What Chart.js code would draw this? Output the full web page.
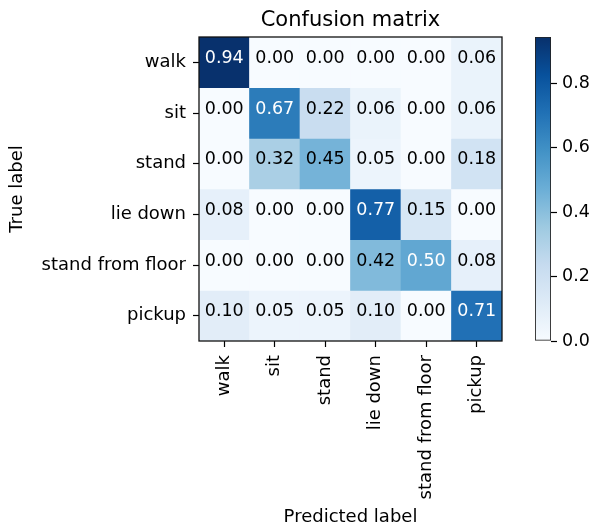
<!DOCTYPE html>
<html>
<head>
<style>
  html, body { margin: 0; padding: 0; background: #fff; }
  #wrap { position: relative; width: 593px; height: 531px; }
  #wrap canvas { position: absolute; left: 0; top: 0; }
</style>
</head>
<body>
<div id="wrap">
  <canvas id="matrix" width="593" height="531"></canvas>
  <canvas id="colorbar" width="593" height="531"></canvas>
</div>

<script src="https://cdn.jsdelivr.net/npm/chart.js"></script>
<script>
// labels
const predictedLabels = ['walk', 'sit', 'stand', 'lie down', 'stand from floor', 'pickup'];
const trueLabels = ['walk', 'sit', 'stand', 'lie down', 'stand from floor', 'pickup'];

// one array per true label (row), values per predicted label (column)
const walk = [0.94, 0.00, 0.00, 0.00, 0.00, 0.06];
const sit = [0.00, 0.67, 0.22, 0.06, 0.00, 0.06];
const stand = [0.00, 0.32, 0.45, 0.05, 0.00, 0.18];
const lieDown = [0.08, 0.00, 0.00, 0.77, 0.15, 0.00];
const standFromFloor = [0.00, 0.00, 0.00, 0.42, 0.50, 0.08];
const pickup = [0.10, 0.05, 0.05, 0.10, 0.00, 0.71];
const rows = [walk, sit, stand, lieDown, standFromFloor, pickup];

// colour scale
const colorMax = 0.944;
const colorbarTicks = [0, 0.2, 0.4, 0.6, 0.8];

// matplotlib "Blues"
const BLUES = [[247,251,255],[222,235,247],[198,219,239],[158,202,225],[107,174,214],
               [66,146,198],[33,113,181],[8,81,156],[8,48,107]];
function blues(t) {
    t = Math.max(0, Math.min(1, t)) * (BLUES.length - 1);
    let i = Math.min(Math.floor(t), BLUES.length - 2);
    let f = t - i;
    let c = BLUES[i].map((v, k) => Math.round(v + (BLUES[i + 1][k] - v) * f));
    return 'rgb(' + c.join(',') + ')';
}

const FONT = '"DejaVu Sans", sans-serif';
Chart.defaults.font.family = FONT;
Chart.defaults.color = '#000';

// writes the value in every cell
const cellText = {
    id: 'cellText',
    afterDatasetsDraw(chart) {
        let ctx = chart.ctx;
        ctx.save();
        ctx.font = '17.5px ' + FONT;
        ctx.textAlign = 'center';
        ctx.textBaseline = 'middle';
        rows.forEach((row, r) => {
            chart.getDatasetMeta(r).data.forEach((bar, c) => {
                let v = row[c];
                ctx.fillStyle = v > colorMax / 2 ? '#fff' : '#000';
                ctx.fillText(v.toFixed(2), bar.x, (bar.y + bar.base) / 2 - 4);
            });
        });
        ctx.restore();
    }
};

// black frame round the plot area
const frame = {
    id: 'frame',
    afterDraw(chart) {
        let a = chart.chartArea;
        let ctx = chart.ctx;
        ctx.save();
        ctx.strokeStyle = '#111';
        ctx.lineWidth = 1.3;
        ctx.strokeRect(a.left, a.top, a.right - a.left, a.bottom - a.top);
        ctx.restore();
    }
};

let matrixChart = new Chart(document.getElementById('matrix').getContext('2d'), {
    type: 'bar',
    data: {
        labels: predictedLabels,
        datasets: rows.map((row, r) => ({
            label: trueLabels[r],
            data: row.map(() => 1),
            backgroundColor: row.map(v => blues(v / colorMax)),
            borderWidth: 0,
            barPercentage: 1,
            categoryPercentage: 1
        }))
    },
    options: {
        responsive: false,
        animation: false,
        layout: { padding: { top: 0, right: 91, bottom: 0, left: 0 } },
        plugins: {
            legend: { display: false },
            tooltip: { enabled: false },
            title: {
                display: true,
                text: 'Confusion matrix',
                fullSize: false,
                color: '#000',
                font: { size: 21, weight: 'normal' },
                padding: { top: 8, bottom: 3.8 }
            }
        },
        scales: {
            x: {
                stacked: true,
                offset: true,
                grid: { drawOnChartArea: false, offset: false, tickLength: 6, tickColor: '#000', tickWidth: 1.2 },
                border: { display: false },
                ticks: { autoSkip: false, maxRotation: 90, minRotation: 90, padding: 8, font: { size: 18 } },
                title: { display: true, text: 'Predicted label', font: { size: 18 }, padding: { top: 0, bottom: 3 } },
                afterFit(scale) { scale.height = 190; }
            },
            y: {
                stacked: true,
                min: 0,
                max: trueLabels.length,
                reverse: true,
                afterBuildTicks(scale) {
                    scale.ticks = trueLabels.map((_, i) => ({ value: i + 0.5 }));
                },
                grid: { drawOnChartArea: false, tickLength: 6, tickColor: '#000', tickWidth: 1.2 },
                border: { display: false },
                ticks: { callback: (v, i) => trueLabels[i], padding: 7, font: { size: 18 } },
                title: { display: true, text: 'True label', font: { size: 18 }, padding: { top: 7, bottom: 0 } },
                afterFit(scale) { scale.width = 199; }
            }
        }
    },
    plugins: [cellText, frame]
});

// colour bar: one floating bar filled with the colour map
let colorbarChart = new Chart(document.getElementById('colorbar').getContext('2d'), {
    type: 'bar',
    data: {
        labels: [''],
        datasets: [{
            data: [[0, colorMax]],
            backgroundColor(c) {
                let area = c.chart.chartArea;
                if (!area) return null;
                let y = c.chart.scales.y;
                let g = c.chart.ctx.createLinearGradient(0, y.getPixelForValue(0), 0, y.getPixelForValue(colorMax));
                BLUES.forEach((col, i) => g.addColorStop(i / (BLUES.length - 1), 'rgb(' + col.join(',') + ')'));
                return g;
            },
            borderColor: '#222',
            borderWidth: 1.2,
            borderSkipped: false,
            barPercentage: 1,
            categoryPercentage: 1
        }]
    },
    options: {
        responsive: false,
        animation: false,
        layout: { padding: { left: 535, top: 37, bottom: 190, right: 0 } },
        plugins: { legend: { display: false }, tooltip: { enabled: false } },
        scales: {
            x: { display: false },
            y: {
                position: 'right',
                min: 0,
                max: colorMax,
                afterBuildTicks(scale) {
                    scale.ticks = colorbarTicks.map(v => ({ value: v }));
                },
                grid: { drawOnChartArea: false, tickLength: 6, tickColor: '#000', tickWidth: 1.2 },
                border: { display: false },
                ticks: { callback: v => v.toFixed(1), padding: 5, font: { size: 17.5 } },
                afterFit(scale) { scale.width = 42; }
            }
        }
    }
});
</script>
</body>
</html>
